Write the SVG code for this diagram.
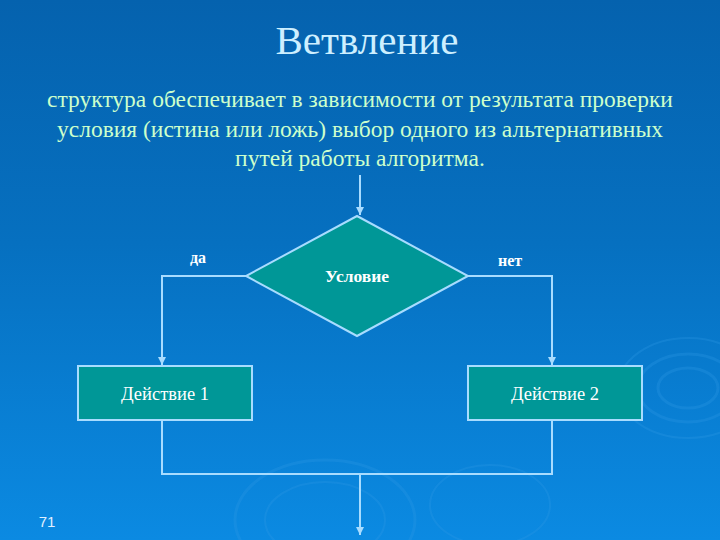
<svg xmlns="http://www.w3.org/2000/svg" width="720" height="540" viewBox="0 0 720 540">
<defs>
<linearGradient id="bg" x1="0" y1="0" x2="0" y2="1">
<stop offset="0" stop-color="#0562ae"/>
<stop offset="0.45" stop-color="#0670c0"/>
<stop offset="1" stop-color="#0b8ae2"/>
</linearGradient>
<marker id="ah" viewBox="0 0 10 10" refX="10" refY="5" markerWidth="4" markerHeight="4" orient="auto">
<path d="M0,0 L10,5 L0,10 z" fill="#a8dcff"/>
</marker>
<style>
.ln{fill:none;stroke:#a8dcff;stroke-width:2}
.nd{fill:#009797;stroke:#a8dcff;stroke-width:2}
.lbl{font-family:"Liberation Serif",serif;fill:#ffffff;text-anchor:middle}
.rip{fill:none;stroke:#2f97e6;stroke-opacity:0.3}
</style>
</defs>
<rect width="720" height="540" fill="url(#bg)"/>
<g id="ripples">
<ellipse class="rip" cx="688" cy="388" rx="30" ry="20" stroke-width="3"/>
<ellipse class="rip" cx="688" cy="388" rx="50" ry="34" stroke-width="3"/>
<ellipse class="rip" cx="688" cy="388" rx="70" ry="50" stroke-width="2"/>
<ellipse class="rip" cx="325" cy="520" rx="90" ry="60" stroke-width="3"/>
<ellipse class="rip" cx="325" cy="520" rx="60" ry="38" stroke-width="2"/>
<ellipse class="rip" cx="490" cy="505" rx="60" ry="40" stroke-width="2"/>
</g>
<text x="367" y="54" font-family="'Liberation Serif', serif" font-size="41" fill="#cdefff" text-anchor="middle">Ветвление</text>
<g font-family="'Liberation Serif', serif" font-size="23.5" fill="#ccffcc" text-anchor="middle">
<text x="360" y="107">структура обеспечивает в  зависимости от результата проверки</text>
<text x="360" y="137">условия (истина или ложь)  выбор одного из альтернативных</text>
<text x="360" y="166">путей работы алгоритма.</text>
</g>
<g id="connectors">
<line class="ln" x1="360" y1="175" x2="360" y2="215" marker-end="url(#ah)"/>
<polyline class="ln" points="246,276 162,276 162,365" marker-end="url(#ah)"/>
<polyline class="ln" points="468,276 552,276 552,365" marker-end="url(#ah)"/>
<polyline class="ln" points="162,420 162,474 552,474 552,420"/>
<line class="ln" x1="360" y1="474" x2="360" y2="535" marker-end="url(#ah)"/>
</g>
<g id="cond">
<polygon class="nd" points="357,216 468,276 357,336 246,276"/>
<text class="lbl" x="357" y="282" font-size="17.5" font-weight="bold">Условие</text>
</g>
<g id="act1">
<rect class="nd" x="78" y="366" width="174" height="54"/>
<text class="lbl" x="165" y="400" font-size="18.5">Действие 1</text>
</g>
<g id="act2">
<rect class="nd" x="468" y="366" width="174" height="54"/>
<text class="lbl" x="555" y="400" font-size="18.5">Действие 2</text>
</g>
<text class="lbl" x="198" y="263" font-size="16" font-weight="bold">да</text>
<text class="lbl" x="510" y="266" font-size="16" font-weight="bold">нет</text>
<text x="47" y="527" font-family="'Liberation Sans', sans-serif" font-size="15" fill="#e0f0ff" text-anchor="middle">71</text>
</svg>
